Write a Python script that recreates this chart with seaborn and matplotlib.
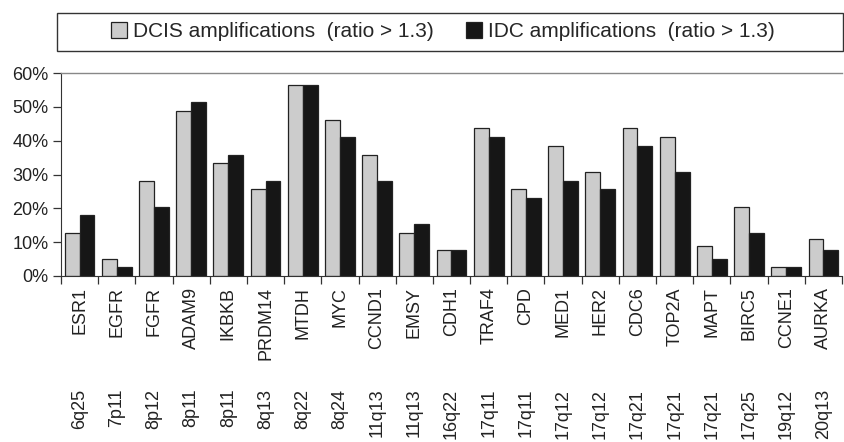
import pandas as pd
import numpy as np
import matplotlib
matplotlib.use('Agg')
import matplotlib.pyplot as plt
import matplotlib.transforms as mtransforms
from matplotlib.patches import Rectangle, Patch
from matplotlib.ticker import FixedLocator, PercentFormatter
import seaborn as sns

genes = ['ESR1', 'EGFR', 'FGFR', 'ADAM9', 'IKBKB', 'PRDM14', 'MTDH', 'MYC', 'CCND1', 'EMSY', 'CDH1',
         'TRAF4', 'CPD', 'MED1', 'HER2', 'CDC6', 'TOP2A', 'MAPT', 'BIRC5', 'CCNE1', 'AURKA']
loci = ['6q25', '7p11', '8p12', '8p11', '8p11', '8q13', '8q22', '8q24', '11q13', '11q13', '16q22',
        '17q11', '17q11', '17q12', '17q12', '17q21', '17q21', '17q21', '17q25', '19q12', '20q13']
dcis = [12.8, 5.1, 28.2, 48.7, 33.3, 25.6, 56.4, 46.2, 35.9, 12.8, 7.7,
        43.6, 25.6, 38.5, 30.8, 43.6, 41.0, 8.9, 20.5, 2.6, 11.0]
idc = [17.9, 2.6, 20.5, 51.3, 35.9, 28.2, 56.4, 41.0, 28.2, 15.4, 7.7,
       41.0, 23.1, 28.2, 25.6, 38.5, 30.8, 5.1, 12.8, 2.6, 7.7]
series = ['DCIS amplifications  (ratio > 1.3)', 'IDC amplifications  (ratio > 1.3)']

df = pd.DataFrame({
    'Gene': genes * 2,
    'Value': dcis + idc,
    'Series': [series[0]] * len(genes) + [series[1]] * len(genes),
})

sns.set_style('white')
plt.rcParams['font.family'] = ['Liberation Sans', 'DejaVu Sans']

colors = {series[0]: '#cccccc', series[1]: '#161616'}

fig = plt.figure(figsize=(8.44, 4.42), dpi=100)
ax = fig.add_axes([0.0723, 0.3756, 0.9253, 0.4592])

sns.barplot(data=df, x='Gene', y='Value', hue='Series', palette=colors, width=0.8,
            edgecolor='#222222', linewidth=0.9, legend=False, ax=ax)

ax.set_xlim(-0.5, len(genes) - 0.5)
ax.set_ylim(0, 60)
ax.yaxis.set_major_locator(FixedLocator(np.arange(0, 61, 10)))
ax.yaxis.set_major_formatter(PercentFormatter(decimals=0))
ax.set_xlabel('')
ax.set_ylabel('')

# spines
for s in ['right']:
    ax.spines[s].set_visible(False)
ax.spines['top'].set_color('#888888')
ax.spines['top'].set_linewidth(1.0)
ax.spines['left'].set_color('#333333')
ax.spines['bottom'].set_color('#333333')

# ticks: labels at categories, marks at boundaries
ax.tick_params(axis='x', which='major', length=0, pad=8, labelsize=13, labelrotation=90, colors='#222222')
ax.xaxis.set_minor_locator(FixedLocator(np.arange(-0.5, len(genes), 1.0)))
ax.tick_params(axis='x', which='minor', bottom=True, length=6, width=0.9, color='#333333', direction='out')
ax.tick_params(axis='y', left=True, length=6, width=0.9, color='#333333', pad=3, labelsize=13,
               labelcolor='#222222', direction='out')

# chromosome loci under gene names
trans = mtransforms.blended_transform_factory(ax.transData, ax.transAxes)
for i, loc in enumerate(loci):
    ax.text(i, -0.556, loc, rotation=90, ha='center', va='top', fontsize=13,
            color='#222222', transform=trans)

# legend in a framed box across the top
fig.patches.append(Rectangle((57.3 / 844, 1 - 50.7 / 442), 786 / 844, 38 / 442,
                             transform=fig.transFigure, facecolor='white',
                             edgecolor='#333333', linewidth=1.0))
handles = [Patch(facecolor=colors[s], edgecolor='#222222', linewidth=0.9, label=s) for s in series]
fig.legend(handles=handles, loc='center', bbox_to_anchor=(443 / 844, 1 - 31.7 / 442), ncol=2,
           frameon=False, fontsize=15, handlelength=0.77, handleheight=0.77,
           handletextpad=0.3, columnspacing=1.55, borderaxespad=0)

fig.savefig('out.png', dpi=100)
